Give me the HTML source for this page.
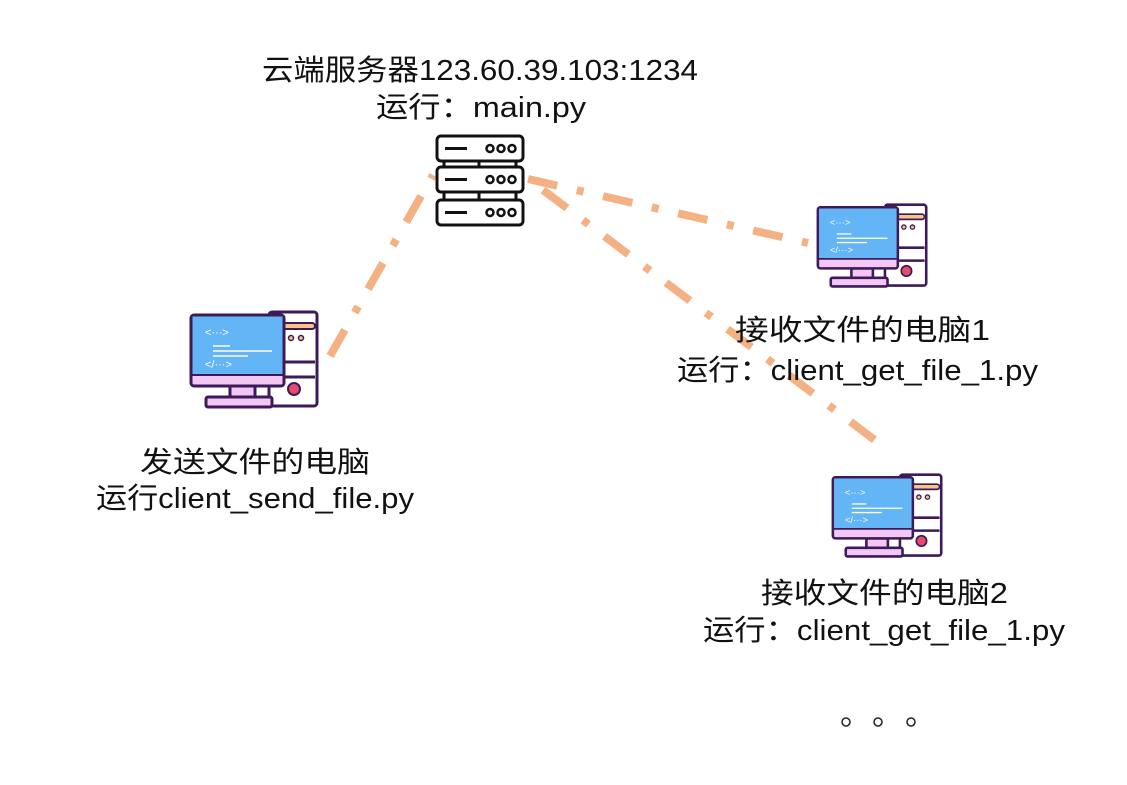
<!DOCTYPE html>
<html><head><meta charset="utf-8"><style>
html,body{margin:0;padding:0;background:#fff;}
svg{display:block;}
text{font-family:"Liberation Sans","Noto Sans CJK SC",sans-serif;font-size:29px;fill:#111;}
</style></head><body>
<svg width="1127" height="785" viewBox="0 0 1127 785" xmlns="http://www.w3.org/2000/svg">
<defs>
<g id="pc">
  <rect x="79" y="2" width="48" height="94" rx="3" fill="#fff" stroke="#3d1a5a" stroke-width="3"/>
  <rect x="92" y="13" width="33" height="6" rx="3" fill="#f7c585" stroke="#3d1a5a" stroke-width="2"/>
  <circle cx="101" cy="28" r="2.5" fill="#f7c585" stroke="#3d1a5a" stroke-width="1.5"/>
  <circle cx="111" cy="28" r="2.5" fill="#f7c585" stroke="#3d1a5a" stroke-width="1.5"/>
  <line x1="92" y1="52" x2="125" y2="52" stroke="#3d1a5a" stroke-width="3"/>
  <line x1="92" y1="67" x2="125" y2="67" stroke="#3d1a5a" stroke-width="3"/>
  <circle cx="104" cy="79" r="6" fill="#e84a6a" stroke="#3d1a5a" stroke-width="2"/>
  <rect x="40" y="76" width="25" height="12" fill="#f3c6f3" stroke="#3d1a5a" stroke-width="3"/>
  <rect x="16" y="87" width="66" height="10" rx="2" fill="#f3c6f3" stroke="#3d1a5a" stroke-width="3"/>
  <rect x="1" y="5" width="93" height="71" rx="3" fill="#f3c6f3" stroke="#3d1a5a" stroke-width="3"/>
  <rect x="2.5" y="6.5" width="90" height="58" fill="#64b5f6"/>
  <line x1="2" y1="65" x2="93" y2="65" stroke="#3d1a5a" stroke-width="2"/>
  <text x="15" y="26" style="font-size:11px;fill:#fff">&lt;···&gt;</text>
  <line x1="23" y1="36" x2="40" y2="36" stroke="#fff" stroke-width="1.5"/>
  <line x1="23" y1="41" x2="82" y2="41" stroke="#fff" stroke-width="1.5"/>
  <line x1="23" y1="46" x2="58" y2="46" stroke="#fff" stroke-width="1.5"/>
  <text x="15" y="58" style="font-size:11px;fill:#fff">&lt;/···&gt;</text>
</g>
<g id="srv">
  <rect x="0" y="0" width="86" height="25" rx="4" fill="#fff" stroke="#111" stroke-width="3"/>
  <line x1="8" y1="12.5" x2="30" y2="12.5" stroke="#111" stroke-width="3"/>
  <circle cx="53" cy="12.5" r="3.5" fill="none" stroke="#111" stroke-width="2.5"/>
  <circle cx="64" cy="12.5" r="3.5" fill="none" stroke="#111" stroke-width="2.5"/>
  <circle cx="75" cy="12.5" r="3.5" fill="none" stroke="#111" stroke-width="2.5"/>
</g>
</defs>
<g stroke="#f4b183" stroke-width="8" stroke-dasharray="30 20 7 20" fill="none">
  <line x1="330" y1="356" x2="433" y2="175"/>
  <line x1="528" y1="179" x2="808" y2="243"/>
  <line x1="543" y1="190" x2="888" y2="450"/>
</g>
<line x1="479" y1="160" x2="479" y2="200" stroke="#111" stroke-width="3"/>
<line x1="444" y1="160" x2="444" y2="200" stroke="#111" stroke-width="3"/>
<line x1="516" y1="160" x2="516" y2="200" stroke="#111" stroke-width="3"/>
<use href="#srv" x="437" y="136"/>
<use href="#srv" x="437" y="167"/>
<use href="#srv" x="437" y="200"/>
<use href="#pc" transform="translate(190,310)"/>
<use href="#pc" transform="translate(817,203) scale(0.86)"/>
<use href="#pc" transform="translate(832,473) scale(0.86)"/>
<text x="262" y="80" textLength="436" lengthAdjust="spacingAndGlyphs">云端服务器123.60.39.103:1234</text>
<text x="376" y="117" textLength="210" lengthAdjust="spacingAndGlyphs">运行：main.py</text>
<text x="140" y="472" textLength="230" lengthAdjust="spacingAndGlyphs">发送文件的电脑</text>
<text x="96" y="508" textLength="318" lengthAdjust="spacingAndGlyphs">运行client_send_file.py</text>
<text x="735" y="340" textLength="255" lengthAdjust="spacingAndGlyphs">接收文件的电脑1</text>
<text x="677" y="380" textLength="361" lengthAdjust="spacingAndGlyphs">运行：client_get_file_1.py</text>
<text x="761" y="603" textLength="247" lengthAdjust="spacingAndGlyphs">接收文件的电脑2</text>
<text x="703" y="640" textLength="362" lengthAdjust="spacingAndGlyphs">运行：client_get_file_1.py</text>
<circle cx="846" cy="722" r="4" fill="none" stroke="#222" stroke-width="1.5"/>
<circle cx="878" cy="722" r="4" fill="none" stroke="#222" stroke-width="1.5"/>
<circle cx="911" cy="722" r="4" fill="none" stroke="#222" stroke-width="1.5"/>
</svg>
</body></html>
